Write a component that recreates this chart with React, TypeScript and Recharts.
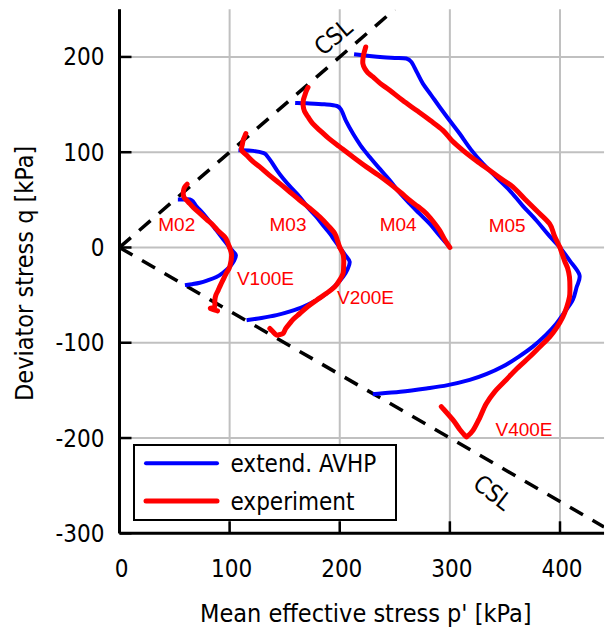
import React from 'react'
import { ComposedChart, Line, Scatter, XAxis, YAxis, CartesianGrid, Legend } from 'recharts'

const FONT = "'DejaVu Sans Condensed', 'Liberation Sans', Arial, sans-serif"
const LABEL_FONT = "'Liberation Sans', Arial, sans-serif"
const BLUE = '#0000ff'
const RED = '#ff0000'

// axis ticks
const pTicks = [0, 100, 200, 300, 400]
const qTicks = [-300, -200, -100, 0, 100, 200]

// critical state lines, [p', q]
const cslCompression = [[0, 0], [250, 250]]
const cslExtension = [[0, 0], [440, -293.3]]

// extend. AVHP simulations, [p', q]
const modelM02 = [[100, 0], [94, 9], [88, 18], [82, 27], [76, 35.7], [70, 43], [67, 48], [64, 50.4], [58, 50.4], [53, 50.4]]
const modelV100E = [[100, 0], [103, -4], [105.7, -8], [104, -14], [100.2, -20], [94, -26.5], [88, -31], [80, -34.5], [73, -37], [66, -38.5], [59.4, -39.5]]
const modelM03 = [[200, 0], [195, 8], [191, 14.7], [185, 23], [178.9, 32], [171, 42], [163.7, 53], [156, 62.5], [148.6, 72.4], [143, 81], [138, 89.8], [134, 96], [131, 99], [121.4, 101.4], [108, 102]]
const modelV200E = [[200, 0], [205, -8], [209, -15], [207, -23], [203, -30.8], [196, -40], [188, -48.3], [178, -56], [166.7, -62.3], [155, -67], [142.6, -71], [129, -74], [115.4, -76.3]]
const modelM04 = [[300, 0], [291, 12], [281.6, 25], [272, 36], [263.5, 46], [254, 58], [245.4, 70.6], [236, 83], [227.2, 95], [219, 107], [212, 119.6], [206, 132], [201.5, 144], [197.5, 148.5], [186, 150.3], [170, 151.3], [159.5, 151.7]]
const modelM05 = [[400, 0], [389, 14], [378.4, 28.6], [366, 44], [354.2, 60], [342, 74], [330, 88], [319, 103], [308.8, 119.6], [300, 133], [290.7, 147.5], [283, 160], [275.5, 172], [270, 184], [265, 194.8], [260.5, 198.3], [250, 199], [239.3, 199.7], [227, 201], [213, 202.8]]
const modelV400E = [[400, 0], [409, -14], [417.7, -29], [415, -42], [411.6, -55], [404, -68], [396.6, -80], [387, -92], [375.3, -104], [362, -115], [348, -125], [333, -133], [318, -139], [298, -144.5], [278.6, -148], [255, -151.5], [230, -154]]

// measured paths, [p', q]
const expM02 = [[100, 0], [98, 6], [95.7, 11], [90, 17], [85, 23.4], [79, 29.5], [73, 35.7], [67, 42], [62.4, 47.8], [59, 52], [58, 55], [58, 59], [59, 63], [61.5, 66.4]]
const expV100E = [[100, 0], [101.8, -8], [100.2, -20], [97, -27], [94, -34], [91.5, -40], [89.6, -45], [87.5, -50], [86.6, -55], [86.6, -60], [86, -63], [82.5, -64], [89, -66.5]]
const expM03 = [[200, 0], [198, 7], [195.5, 14.7], [189, 23.5], [182, 32], [173, 41], [163.7, 49.6], [155, 58], [145.6, 67], [136, 76], [127.4, 84.6], [121, 90.5], [115.4, 96.9], [111.5, 101], [110.8, 104], [111.5, 108], [112.3, 112.6], [113.5, 116], [114.7, 119.6]]
const expV200E = [[200, 0], [203, -7], [203.6, -13.3], [203.5, -20], [203, -27.3], [200, -34], [195.5, -41.3], [188, -48], [178.9, -55.3], [171, -62], [163.7, -69.3], [158, -75], [154.6, -79.7], [151, -85], [148.6, -90.2], [145, -91.5], [142.6, -92], [139, -88], [136.5, -85]]
const expM04 = [[300, 0], [295, 9], [290.7, 18], [285, 27], [278.6, 35.7], [271, 43], [263.5, 49.6], [255, 58], [245.4, 67], [235, 76], [224.2, 84.6], [212, 95], [200, 105.6], [190, 114.5], [181.9, 123], [175.5, 130], [171.2, 137], [168, 143], [166.7, 149.3], [167, 155], [168.3, 159.8], [169.5, 164], [171.2, 168]]
const expM05 = [[400, 0], [395, 12], [390.5, 25], [378.4, 39], [368, 51], [357.2, 63.6], [346, 72.5], [336, 81], [324, 91], [311.8, 102], [302, 112], [293.7, 123], [282, 133.5], [269.6, 144], [257, 154.5], [245.4, 165], [237, 172], [230.2, 179], [225.5, 183.5], [222.7, 187.8], [221, 193], [221.1, 198.3], [222, 204], [223.6, 210.5]]
const expV400E = [[400, 0], [404, -13.5], [407, -22], [408.6, -31], [409, -42], [408.6, -52], [406, -63], [402.5, -73], [397, -84], [390.5, -94], [381, -105], [372.3, -115], [361, -127], [351, -139], [341, -151], [333, -164], [327, -179], [321, -192], [316, -198], [314.3, -198], [309, -191], [302.8, -181], [292.2, -167]]

// test names placed in the p'-q plane
const testLabels = [
  { name: 'M02', p: 52, q: 24 },
  { name: 'M03', p: 153, q: 24.5 },
  { name: 'M04', p: 253, q: 24.8 },
  { name: 'M05', p: 352, q: 23.4 },
  { name: 'V100E', p: 132.5, q: -32.5 },
  { name: 'V200E', p: 223.4, q: -51.8 },
  { name: 'V400E', p: 367.3, q: -190.7 },
]
const cslLabels = [
  { name: 'CSL', p: 194, q: 221, angle: -40 },
  { name: 'CSL', p: 339, q: -257, angle: 38 },
]

const legendOrder = ['extend. AVHP', 'experiment']

const toPts = (arr: number[][]) => arr.map(([p, q]) => ({ p, q }))

const models = [modelM02, modelV100E, modelM03, modelV200E, modelM04, modelM05, modelV400E]
const experiments = [expM02, expV100E, expM03, expV200E, expM04, expM05, expV400E]

// Catmull-Rom through the given points (parametric, so paths may turn back in p')
const smoothCurve = (context: any) => {
  let pts: number[][] = []
  return {
    areaStart() {},
    areaEnd() {},
    lineStart() {
      pts = []
    },
    point(x: number, y: number) {
      pts.push([+x, +y])
    },
    lineEnd() {
      if (!pts.length) return
      context.moveTo(pts[0][0], pts[0][1])
      for (let i = 0; i < pts.length - 1; i++) {
        const p0 = pts[i - 1] || pts[i]
        const p1 = pts[i]
        const p2 = pts[i + 1]
        const p3 = pts[i + 2] || p2
        context.bezierCurveTo(
          p1[0] + (p2[0] - p0[0]) / 6,
          p1[1] + (p2[1] - p0[1]) / 6,
          p2[0] - (p3[0] - p1[0]) / 6,
          p2[1] - (p3[1] - p1[1]) / 6,
          p2[0],
          p2[1],
        )
      }
    },
  }
}

const TICK_LEN = 12

const BottomTick = ({ x, y, payload }: any) => (
  <g>
    <line x1={x} x2={x} y1={y} y2={y - TICK_LEN} stroke="#000" strokeWidth={2.5} />
    <text x={x + 2} y={y + 44} textAnchor="middle" fontSize={24} fill="#000" fontFamily={FONT}>
      {payload.value}
    </text>
  </g>
)

const LeftTick = ({ x, y, payload }: any) => (
  <g>
    <line x1={x} x2={x + TICK_LEN} y1={y} y2={y} stroke="#000" strokeWidth={2.5} />
    <text x={x - 15} y={y + 8.5} textAnchor="end" fontSize={24} fill="#000" fontFamily={FONT}>
      {payload.value}
    </text>
  </g>
)

const TopTick = ({ x, y }: any) => (
  <line x1={x} x2={x} y1={y} y2={y + TICK_LEN} stroke="#000" strokeWidth={2.5} />
)

const RightTick = ({ x, y }: any) => (
  <line x1={x} x2={x - TICK_LEN} y1={y} y2={y} stroke="#000" strokeWidth={2.5} />
)

const TestLabel = ({ cx, cy, payload }: any) => (
  <text x={cx} y={cy + 6.8} textAnchor="middle" fontSize={19} fill={RED} fontFamily={LABEL_FONT}>
    {payload.name}
  </text>
)

const CslLabel = ({ cx, cy, payload }: any) => (
  <text
    x={cx}
    y={cy + 8.5}
    textAnchor="middle"
    fontSize={24}
    fill="#000"
    fontFamily={FONT}
    transform={`rotate(${payload.angle} ${cx} ${cy})`}
  >
    {payload.name}
  </text>
)

const LegendBox = ({ payload }: any) => {
  const items = (payload || [])
    .filter((e: any) => legendOrder.includes(e.value))
    .sort((a: any, b: any) => legendOrder.indexOf(a.value) - legendOrder.indexOf(b.value))
  return (
    <svg width={264} height={77} style={{ display: 'block' }}>
      <rect x={1} y={1} width={262} height={75} fill="#fff" stroke="#000" strokeWidth={2} />
      {items.map((e: any, i: number) => {
        const cy = i === 0 ? 19.3 : 57
        return (
          <g key={e.value}>
            <line x1={13} x2={84} y1={cy} y2={cy} stroke={e.color} strokeWidth={i === 0 ? 4 : 5} strokeLinecap="round" />
            <text x={97.5} y={cy + 9} fontSize={24} fill="#000" fontFamily={FONT}>{e.value}</text>
          </g>
        )
      })}
    </svg>
  )
}

export default function App() {
  return (
    <div style={{ position: 'absolute', left: 0, top: 0 }}>
      <ComposedChart width={605} height={630} margin={{ top: 9.3, right: 0.95, bottom: 0, left: 0 }}>
        <CartesianGrid stroke="#c0c0c0" strokeWidth={2} horizontalValues={qTicks} verticalValues={pTicks} />
        <XAxis
          dataKey="p"
          type="number"
          domain={[0, 440]}
          ticks={pTicks}
          interval={0}
          allowDataOverflow
          height={96.7}
          tickSize={0}
          tickMargin={0}
          tickLine={false}
          tick={BottomTick}
          axisLine={{ stroke: '#000', strokeWidth: 3 }}
          label={{
            content: ({ viewBox }: any) => (
              <text x={viewBox.x + viewBox.width / 2 + 4} y={viewBox.y + 88.5} textAnchor="middle" fontSize={25} fill="#000" fontFamily={FONT}>
                Mean effective stress p' [kPa]
              </text>
            ),
          }}
        />
        <XAxis
          xAxisId="top"
          orientation="top"
          dataKey="p"
          type="number"
          domain={[0, 440]}
          ticks={pTicks}
          interval={0}
          allowDataOverflow
          height={0}
          tickSize={0}
          tickMargin={0}
          tickLine={false}
          tick={TopTick}
          axisLine={{ stroke: '#000', strokeWidth: 3 }}
        />
        <YAxis
          type="number"
          domain={[-300, 250]}
          ticks={qTicks}
          interval={0}
          allowDataOverflow
          width={119.5}
          tickSize={0}
          tickMargin={0}
          tickLine={false}
          tick={LeftTick}
          axisLine={{ stroke: '#000', strokeWidth: 3 }}
          label={{
            content: ({ viewBox }: any) => {
              const cx = 33
              const cy = viewBox.y + viewBox.height / 2 + 2
              return (
                <text x={cx} y={cy} textAnchor="middle" fontSize={25} fill="#000" fontFamily={FONT} transform={`rotate(-90 ${cx} ${cy})`}>
                  Deviator stress q [kPa]
                </text>
              )
            },
          }}
        />
        <YAxis
          yAxisId="right"
          orientation="right"
          type="number"
          domain={[-300, 250]}
          ticks={qTicks}
          interval={0}
          allowDataOverflow
          width={0}
          tickSize={0}
          tickMargin={0}
          tickLine={false}
          tick={RightTick}
          axisLine={{ stroke: '#000', strokeWidth: 3 }}
        />

        {[cslCompression, cslExtension].map((s, i) => (
          <Line
            key={`csl${i}`}
            data={toPts(s)}
            dataKey="q"
            type="linear"
            stroke="#000"
            strokeWidth={3.5}
            strokeDasharray="15 11"
            dot={false}
            activeDot={false}
            legendType="none"
            isAnimationActive={false}
          />
        ))}

        {models.map((s, i) => (
          <Line
            key={`model${i}`}
            name={i === 0 ? 'extend. AVHP' : undefined}
            data={toPts(s)}
            dataKey="q"
            type={smoothCurve as any}
            stroke={BLUE}
            strokeWidth={4}
            strokeLinejoin="round"
            dot={false}
            activeDot={false}
            legendType={i === 0 ? 'line' : 'none'}
            isAnimationActive={false}
          />
        ))}

        {experiments.map((s, i) => (
          <Line
            key={`exp${i}`}
            name={i === 0 ? 'experiment' : undefined}
            data={toPts(s)}
            dataKey="q"
            type={smoothCurve as any}
            stroke={RED}
            strokeWidth={5}
            strokeLinejoin="round"
            strokeLinecap="round"
            dot={false}
            activeDot={false}
            legendType={i === 0 ? 'line' : 'none'}
            isAnimationActive={false}
          />
        ))}

        <Scatter data={testLabels} dataKey="q" shape={TestLabel} legendType="none" isAnimationActive={false} />
        <Scatter data={cslLabels} dataKey="q" shape={CslLabel} legendType="none" isAnimationActive={false} />

        <Legend
          layout="horizontal"
          align="center"
          verticalAlign="middle"
          content={LegendBox}
          wrapperStyle={{ left: 133, top: 444, width: 264, height: 77 }}
        />
      </ComposedChart>
    </div>
  )
}
